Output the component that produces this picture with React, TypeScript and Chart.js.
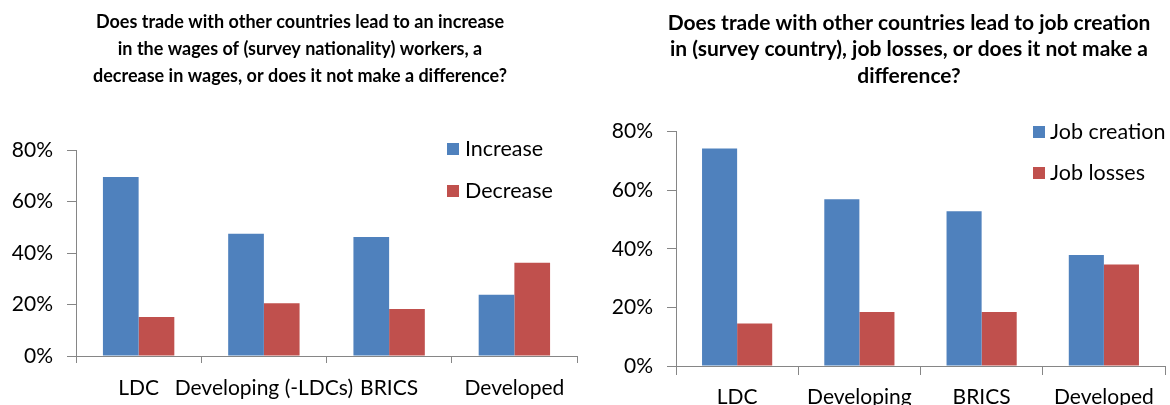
import React, { useEffect, useRef } from "react";
import { Chart, registerables } from "chart.js";

Chart.register(...registerables);

// ---- data ----
const leftCategories = ["LDC", "Developing (-LDCs)", "BRICS", "Developed"];
const leftIncrease = [69.5, 47.5, 46.2, 23.8];
const leftDecrease = [15.1, 20.5, 18.3, 36.2];
const leftTitle = [
  "Does trade with other countries lead to an increase",
  "in the wages of (survey nationality) workers, a",
  "decrease in wages, or does it not make a difference?",
];
const leftLegend = ["Increase", "Decrease"];

const rightCategories = ["LDC", "Developing", "BRICS", "Developed"];
const rightJobCreation = [74.2, 56.9, 52.8, 37.9];
const rightJobLosses = [14.5, 18.4, 18.4, 34.6];
const rightTitle = [
  "Does trade with other countries lead to job creation",
  "in (survey country), job losses, or does it not make a",
  "difference?",
];
const rightLegend = ["Job creation", "Job losses"];

const yTicks = [0, 20, 40, 60, 80];

const BLUE = "#4F81BD";
const RED = "#C0504D";
const AXIS = "#868686";
const FONT = "Lato, 'Open Sans', sans-serif";

// custom legend drawn at a fixed spot (like the Excel original)
const fixedLegend = {
  id: "fixedLegend",
  afterDraw(chart: any, _args: any, opts: any) {
    const ctx = chart.ctx;
    ctx.save();
    ctx.font = `${opts.fontSize}px ${FONT}`;
    ctx.textBaseline = "middle";
    ctx.textAlign = "left";
    chart.data.datasets.forEach((ds: any, i: number) => {
      const cy = opts.y + i * opts.gap;
      ctx.fillStyle = ds.backgroundColor;
      ctx.fillRect(opts.x, cy - opts.box / 2, opts.box, opts.box);
      ctx.fillStyle = "#000";
      ctx.fillText(ds.label, opts.x + opts.box + opts.textGap, cy);
    });
    ctx.restore();
  },
};

// re-centre the title block horizontally (the title box is centred over a custom span)
const titleSpan = {
  id: "titleSpan",
  afterLayout(chart: any, _args: any, opts: any) {
    const tb = chart.titleBlock;
    if (tb && opts) {
      tb.left = opts.left;
      tb.right = opts.right;
      tb.width = opts.right - opts.left;
    }
  },
};

function makeConfig(p: {
  categories: string[];
  a: number[];
  b: number[];
  labels: string[];
  title: string[];
  titleSize: number;
  titleLineHeight: number;
  titleTop: number;
  titleBottom: number;
  titleLeft: number;
  titleRight: number;
  padRight: number;
  yWidth: number;
  xHeight: number;
  xTickLen: number;
  xPad: number;
  catPct: number;
  legend: any;
}) {
  return {
    type: "bar",
    data: {
      labels: p.categories,
      datasets: [
        { label: p.labels[0], data: p.a, backgroundColor: BLUE, borderWidth: 0 },
        { label: p.labels[1], data: p.b, backgroundColor: RED, borderWidth: 0 },
      ],
    },
    options: {
      responsive: false,
      animation: false,
      devicePixelRatio: 1,
      layout: { padding: { left: 0, right: p.padRight, top: 0, bottom: 0 } },
      datasets: { bar: { categoryPercentage: p.catPct, barPercentage: 1 } },
      plugins: {
        legend: { display: false },
        tooltip: { enabled: false },
        title: {
          display: true,
          text: p.title,
          color: "#000",
          font: { family: FONT, size: p.titleSize, weight: "bold", lineHeight: p.titleLineHeight },
          padding: { top: p.titleTop, bottom: p.titleBottom },
        },
        fixedLegend: p.legend,
        titleSpan: { left: p.titleLeft, right: p.titleRight },
      },
      scales: {
        x: {
          grid: {
            display: true,
            drawOnChartArea: false,
            drawTicks: true,
            tickLength: p.xTickLen,
            color: AXIS,
            offset: true,
          },
          border: { display: true, color: AXIS, width: 1 },
          ticks: {
            color: "#000",
            font: { family: FONT, size: 21 },
            padding: p.xPad,
            maxRotation: 0,
            autoSkip: false,
          },
          afterFit(scale: any) {
            scale.height = p.xHeight;
          },
        },
        y: {
          min: 0,
          max: 80,
          afterBuildTicks(scale: any) {
            scale.ticks = yTicks.map((v) => ({ value: v }));
          },
          grid: {
            display: true,
            drawOnChartArea: false,
            drawTicks: true,
            tickLength: 9,
            color: AXIS,
          },
          border: { display: true, color: AXIS, width: 1 },
          ticks: {
            color: "#000",
            font: { family: FONT, size: 21 },
            padding: 14,
            callback: (v: any) => `${v}%`,
          },
          afterFit(scale: any) {
            scale.width = p.yWidth;
          },
        },
      },
    },
    plugins: [fixedLegend, titleSpan],
  } as any;
}

function ChartCanvas({ config, width, height, left }: any) {
  const ref = useRef<HTMLCanvasElement>(null);
  useEffect(() => {
    const chart = new Chart(ref.current as HTMLCanvasElement, config);
    return () => chart.destroy();
  }, []);
  return (
    <canvas
      ref={ref}
      width={width}
      height={height}
      style={{ position: "absolute", left, top: 0, width, height }}
    />
  );
}

export default function App() {
  const leftConfig = makeConfig({
    categories: leftCategories,
    a: leftIncrease,
    b: leftDecrease,
    labels: leftLegend,
    title: leftTitle,
    titleSize: 18,
    titleLineHeight: 1.5,
    titleTop: 8.5,
    titleBottom: 60.5,
    titleLeft: 0,
    titleRight: 600,
    padRight: 23,
    yWidth: 76,
    xHeight: 49,
    xTickLen: 7,
    xPad: 13,
    catPct: 0.57,
    legend: { x: 447, y: 149, gap: 42, box: 12, textGap: 6, fontSize: 21.5 },
  });
  const rightConfig = makeConfig({
    categories: rightCategories,
    a: rightJobCreation,
    b: rightJobLosses,
    labels: rightLegend,
    title: rightTitle,
    titleSize: 21,
    titleLineHeight: 1.26,
    titleTop: 9.75,
    titleBottom: 42.45,
    titleLeft: 63,
    titleRight: 575,
    padRight: 5,
    yWidth: 86,
    xHeight: 39,
    xTickLen: 9,
    xPad: 10,
    catPct: 0.574,
    legend: { x: 443, y: 132, gap: 41, box: 12, textGap: 5, fontSize: 21.5 },
  });
  return (
    <div
      style={{
        position: "fixed",
        left: 0,
        top: 0,
        width: 1170,
        height: 405,
        background: "#fff",
        overflow: "hidden",
      }}
    >
      <ChartCanvas config={leftConfig} width={600} height={405} left={0} />
      <ChartCanvas config={rightConfig} width={580} height={405} left={590} />
    </div>
  );
}
